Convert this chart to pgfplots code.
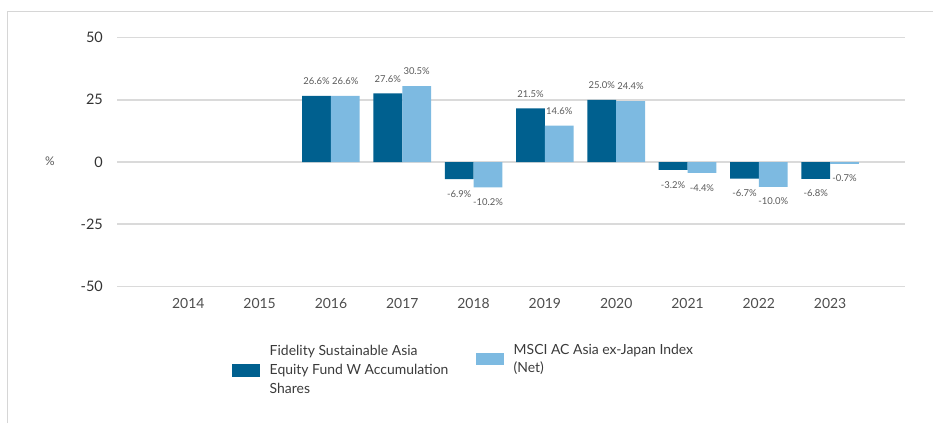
\documentclass[border=0pt]{standalone}
\usepackage{fontspec}
\setmainfont{Lato}
\usepackage{pgfplots}
\usepackage{pgfplotstable}
\pgfplotsset{compat=1.18}
\definecolor{fundblue}{HTML}{00608F}
\definecolor{indexblue}{HTML}{7DBAE1}
\definecolor{gridgray}{HTML}{DADADA}
\definecolor{framegray}{HTML}{D6D6D6}
\definecolor{ticktext}{HTML}{333333}
\definecolor{xtext}{HTML}{4D4D4D}
\definecolor{labeltext}{HTML}{5A5A5A}
\definecolor{legtext}{HTML}{3A3A3A}
\pgfplotstableread{
x fund index
2 26.6 26.6
3 27.6 30.5
4 -6.9 -10.2
5 21.5 14.6
6 25.0 24.4
7 -3.2 -4.4
8 -6.7 -10.0
9 -6.8 -0.7
}\perf
\begin{document}
\begin{tikzpicture}[x=1bp,y=1bp]
\path[use as bounding box] (0,0) rectangle (933,-423);
\draw[framegray, line width=1.3bp] (7.5,-423) -- (7.5,-11.5) -- (933,-11.5);
\node[text=labeltext, font=\fontsize{12}{12}\selectfont] at (50,-161.5) {\%};
\begin{axis}[
  at={(117bp,-286.5bp)}, anchor=south west,
  scale only axis, width=788bp, height=249bp,
  xmin=-1, xmax=10.05, ymin=-50, ymax=50,
  ytick={-50,-25,0,25,50},
  xtick={0,1,2,3,4,5,6,7,8,9},
  xticklabels={2014,2015,2016,2017,2018,2019,2020,2021,2022,2023},
  /pgf/number format/assume math mode=true,
  axis line style={draw=none},
  major tick length=0pt,
  ymajorgrids, grid style={gridgray, line width=1.8bp},
  yticklabel style={anchor=east, inner sep=0pt, xshift=-14bp, text=ticktext, font=\fontsize{14.5}{14.5}\selectfont},
  xticklabel style={anchor=north, inner sep=0pt, yshift=-12bp, text=xtext, font=\fontsize{14}{14}\selectfont},
  ybar=0pt, bar width=28.8bp,
  nodes near coords={\pgfmathprintnumber[fixed,fixed zerofill,precision=1]{\pgfplotspointmeta}\%},
  every node near coord/.append style={font=\fontsize{9.5}{9.5}\selectfont, text=labeltext, inner xsep=0pt, inner ysep=11bp},
  legend style={at={(0.146,-0.213)}, anchor=north west, draw=none, fill=none, inner sep=0pt,
    font=\fontsize{14}{19}\selectfont, text=legtext,
    cells={anchor=west, inner sep=0pt},
    /tikz/every odd column/.append style={column sep=8bp},
    /tikz/every even column/.append style={column sep=14bp}},
  legend columns=2,
]
\addplot[fill=fundblue, draw=none,
  legend image code/.code={\fill[fundblue,draw=none] (0bp,-17.5bp) rectangle (27.5bp,-4.5bp); \path[draw=none,fill=none] (0bp,-20bp) -- (0bp,20bp);}]
  table[x=x, y=fund] {\perf};
\addlegendentry{\parbox{190bp}{\raggedright Fidelity Sustainable Asia\\Equity Fund W Accumulation\\Shares}}
\addplot[fill=indexblue, draw=none,
  legend image code/.code={\fill[indexblue,draw=none] (0bp,-5.5bp) rectangle (28bp,7bp); \path[draw=none,fill=none] (0bp,-20bp) -- (0bp,20bp);}]
  table[x=x, y=index] {\perf};
\addlegendentry{\parbox{210bp}{\raggedright MSCI AC Asia ex-Japan Index\\(Net)\\\strut}}
\end{axis}
\end{tikzpicture}
\end{document}
